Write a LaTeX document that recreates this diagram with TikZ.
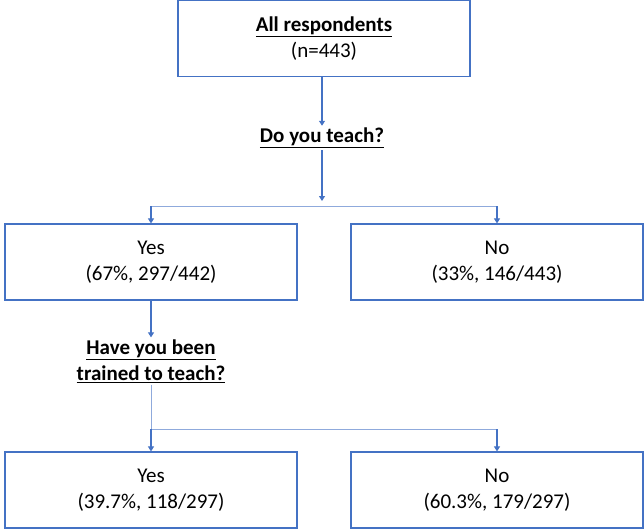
\documentclass[tikz,border=0pt]{standalone}
\usepackage{fontspec}
\setmainfont{Carlito}
\usetikzlibrary{arrows.meta}

\definecolor{boxblue}{HTML}{4472C4}
\definecolor{lineblue}{HTML}{8FAADC}

\tikzset{
    box/.style={draw=boxblue, line width=1.2pt, minimum width=292pt, minimum height=76pt,
        align=center, font=\fontsize{21}{26}\selectfont},
    question/.style={align=center, font=\fontsize{21}{26}\selectfont\bfseries, inner sep=2pt},
    arr/.style={boxblue, line width=1.1pt, -{Triangle[width=6pt,length=5pt]}},
    branch/.style={lineblue, line width=1pt}
}

\begin{document}
\begin{tikzpicture}[x=1pt, y=-1pt]
    \useasboundingbox (0,0) rectangle (644,530);

    \node[box] (all) at (324,38.5) {\underline{\textbf{All respondents}}\\(n=443)};
    \node[question] (teach) at (322,138) {\underline{Do you teach?}};

    \node[box] (yes1) at (151,262) {Yes\\(67\%, 297/442)};
    \node[box] (no1) at (497,262) {No\\(33\%, 146/443)};
    \node[question] (trained) at (151,361) {\underline{Have you been}\\\underline{trained to teach?}};

    \node[box] (yes2) at (151,490) {Yes\\(39.7\%, 118/297)};
    \node[box] (no2) at (497,490) {No\\(60.3\%, 179/297)};

    % first split
    \coordinate (split1) at (322,206);
    \coordinate (left1) at (151,206);
    \coordinate (right1) at (497,206);
    \draw[arr] (all.south -| teach) -- (teach.north);
    \draw[arr, shorten >=5pt] (teach.south) -- (split1);
    \draw[branch] (left1) -- (right1);
    \draw[arr] (left1) -- (yes1.north);
    \draw[arr] (right1) -- (no1.north);

    % second split
    \coordinate (left2) at (151,429);
    \coordinate (right2) at (497,429);
    \draw[arr] (yes1.south) -- (trained.north);
    \draw[branch] (trained.south) -- (left2) -- (right2);
    \draw[arr] (left2) -- (yes2.north);
    \draw[arr] (right2) -- (no2.north);
\end{tikzpicture}
\end{document}
